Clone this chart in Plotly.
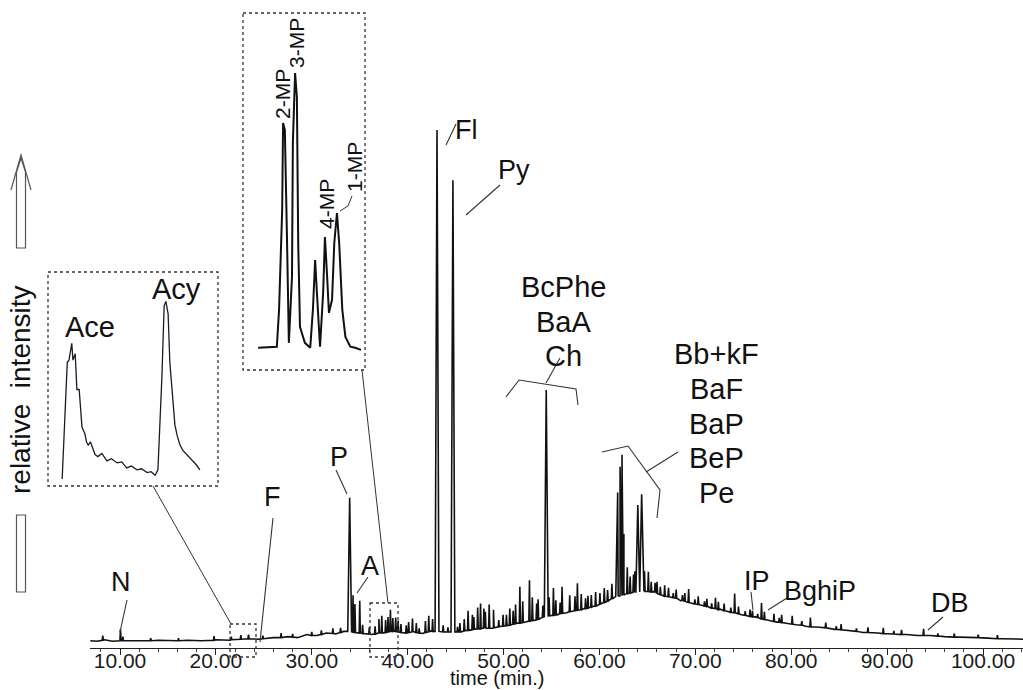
import plotly.graph_objects as go

W, H = 1023, 690
FONT = "Liberation Sans, Arial, sans-serif"
INK = "#111111"

# ---- main chromatogram: baseline readings (time in min, relative intensity) ----
base_time = [6.9, 7.6, 8.4, 9.2, 11.0, 12.5, 14.0, 15.5, 17.0, 18.5, 20.0, 21.5, 23.0, 24.5,
             26.0, 27.5, 28.5, 29.5, 30.5, 31.5, 32.5, 33.3, 35.6, 36.2, 37.0, 38.6, 39.6,
             40.6, 41.6, 42.4, 45.6, 46.6, 47.8, 48.8, 49.8, 50.8, 51.4, 52.3, 53.3, 54.0,
             55.6, 56.6, 57.3, 58.4, 59.3, 60.2, 61.0, 61.6, 63.4, 65.6, 66.5, 67.5, 68.5,
             69.8, 70.8, 72.6, 73.5, 74.8, 76.3, 77.5, 78.5, 79.5, 80.5, 81.5, 83.0, 84.5,
             86.0, 87.5, 89.0, 90.5, 92.0, 93.2, 94.5, 96.0, 97.5, 99.0, 100.5, 102.0, 103.5, 104.2]
base_val = [1.4, 1.3, 1.6, 1.3, 1.4, 1.3, 1.5, 1.4, 1.5, 1.4, 1.6, 1.5, 1.8, 1.7,
            2.0, 2.2, 2.0, 2.6, 2.4, 2.9, 2.7, 3.2, 2.8, 2.6, 3.0, 3.3, 2.9,
            3.2, 2.8, 3.3, 3.1, 3.5, 3.8, 3.7, 4.2, 4.5, 4.8, 5.0, 5.4, 5.9,
            6.4, 6.8, 7.2, 7.6, 8.0, 8.6, 9.2, 9.8, 10.7, 10.9, 10.2, 9.7, 9.1,
            8.6, 8.1, 7.5, 7.0, 6.4, 6.0, 5.4, 5.0, 4.8, 4.5, 4.2, 4.0, 3.6,
            3.3, 3.0, 2.9, 2.7, 2.6, 2.4, 2.4, 2.2, 2.1, 2.0, 1.9, 1.8, 1.7, 1.7]

# ---- peaks: retention time, local baseline, apex ----
peak_time = [8.2, 10.05, 10.3, 13.2, 16.1, 19.8, 21.6, 22.6, 23.4, 24.9, 26.8, 28.0, 30.0,
             31.0, 32.2, 33.0,
             33.95,
             34.3, 34.5, 35.0, 35.3,
             36.0, 36.6, 37.0, 37.3, 37.7, 37.95, 38.2, 38.45, 38.75, 39.0, 39.3, 39.85, 40.1,
             40.5, 40.9, 41.2, 41.85, 42.2, 42.6,
             43.06,
             43.7, 44.2,
             44.72,
             45.2, 45.45, 45.9, 46.3, 46.75, 46.9, 47.3, 47.6, 47.95, 48.1, 48.5, 48.95, 49.0,
             49.5, 49.95, 50.3, 50.65, 51.0, 51.25, 51.7, 52.0, 52.7, 53.0, 53.45, 53.6, 54.1,
             54.45,
             54.75, 55.2, 55.45, 55.9, 56.1, 56.9, 57.45, 57.7, 58.1, 58.55, 58.8, 59.15, 59.6,
             60.05, 60.5, 60.85, 61.3,
             61.9, 62.15, 62.35, 62.55, 62.9, 63.2, 63.55, 63.7, 64.0, 64.4, 64.7, 65.1, 65.4,
             65.8, 66.0, 66.35, 66.8, 67.2, 67.7, 68.0, 68.65, 68.9, 69.3, 69.95, 70.3, 70.95,
             71.2, 71.7, 72.1, 72.4, 73.0, 73.7, 74.1, 74.5, 75.2, 75.7, 75.95, 76.5, 76.9,
             77.2, 78.2, 78.75, 79.0, 80.1, 81.1, 82.0, 83.6, 84.7, 85.2, 86.8, 88.0, 89.6,
             90.7, 91.5, 93.8, 95.3, 97.0, 99.5, 101.5]
peak_base = [1.5, 1.4, 1.4, 1.4, 1.4, 1.5, 1.6, 1.7, 1.8, 1.8, 2.0, 2.1, 2.4,
             2.6, 2.8, 3.0,
             3.2,
             3.0, 3.0, 2.9, 2.8,
             2.7, 2.7, 2.9, 2.9, 3.0, 3.1, 3.2, 3.2, 3.2, 3.1, 3.0, 2.9, 3.0,
             3.1, 3.0, 2.9, 3.0, 3.1, 3.2,
             3.2,
             3.1, 3.1,
             3.1,
             3.1, 3.1, 3.3, 3.4, 3.5, 3.6, 3.7, 3.7, 3.8, 3.8, 3.8, 3.8, 3.9,
             4.1, 4.2, 4.3, 4.4, 4.6, 4.7, 4.8, 4.9, 5.2, 5.3, 5.4, 5.5, 5.9,
             6.1,
             6.2, 6.3, 6.4, 6.6, 6.7, 7.0, 7.2, 7.3, 7.4, 7.6, 7.7, 7.9, 8.1,
             8.4, 8.8, 9.0, 9.5,
             10.0, 10.1, 10.2, 10.3, 10.5, 10.6, 10.7, 10.7, 10.8, 10.9, 10.9, 10.9, 10.8,
             10.7, 10.5, 10.3, 10.0, 9.9, 9.7, 9.6, 9.2, 9.0, 8.8, 8.5, 8.4, 8.1,
             8.0, 7.7, 7.6, 7.4, 7.2, 6.9, 6.8, 6.6, 6.3, 6.1, 6.0, 5.9, 5.6,
             5.5, 5.1, 5.0, 4.9, 4.6, 4.4, 4.1, 3.9, 3.6, 3.5, 3.2, 3.0, 2.8,
             2.7, 2.6, 2.4, 2.3, 2.1, 2.0, 1.8]
peak_top = [2.4, 3.6, 2.2, 1.9, 1.9, 2.3, 2.2, 2.5, 2.6, 2.4, 2.9, 2.7, 3.1,
            3.4, 3.8, 3.9,
            29.0,
            10.2, 8.5, 9.1, 4.5,
            4.0, 4.2, 5.6, 6.2, 5.4, 6.0, 7.4, 5.8, 5.9, 5.3, 4.6, 4.4, 5.0,
            5.7, 4.8, 3.8, 5.2, 6.2, 5.6,
            100.0,
            4.4, 4.0,
            90.3,
            4.1, 4.8, 5.6, 7.2, 6.4, 6.0, 7.8, 8.6, 7.6, 7.0, 8.4, 7.4, 5.8,
            5.4, 6.4, 6.4, 7.6, 7.2, 8.4, 11.8, 9.0, 13.1, 9.8, 8.6, 9.4, 8.2,
            49.8,
            9.8, 11.6, 9.2, 8.8, 11.8, 10.2, 10.0, 12.5, 10.4, 9.6, 10.1, 10.2, 10.8,
            10.6, 11.6, 11.2, 12.4,
            30.0, 35.0, 37.3, 22.0, 15.6, 13.8, 14.2, 14.8, 27.6, 29.7, 14.8, 14.7, 12.8,
            12.6, 12.8, 11.8, 12.1, 11.6, 10.6, 11.3, 10.2, 10.6, 11.4, 9.4, 10.0, 9.0,
            9.5, 8.6, 9.7, 8.9, 8.6, 7.8, 10.5, 8.0, 7.1, 7.4, 7.2, 6.6, 8.7,
            7.0, 6.6, 5.8, 6.4, 6.2, 5.2, 5.9, 4.9, 4.2, 4.6, 3.8, 4.0, 3.9,
            3.3, 3.5, 3.7, 2.8, 2.8, 2.6, 2.5]

# ---- inset: Ace / Acy window ----
ace_time = [21.75, 21.80, 21.84, 21.87, 21.92, 21.94, 21.98, 22.01, 22.05, 22.10, 22.15,
            22.18, 22.21, 22.25, 22.29, 22.33, 22.38, 22.45, 22.54, 22.62, 22.72, 22.80,
            22.89, 22.97, 23.07, 23.15, 23.25, 23.32, 23.39, 23.44, 23.51, 23.55, 23.58,
            23.62, 23.65, 23.70, 23.74, 23.78, 23.83, 23.88, 23.95, 24.00, 24.06, 24.12, 24.18]
ace_val = [1.3, 32, 57, 58, 66, 58, 61, 44, 44, 26, 23,
           19, 17.5, 19, 16, 13, 12, 13.5, 10, 11, 9, 9.5,
           6.6, 7.5, 5.7, 6.2, 4.4, 4.8, 3.1, 5.7, 50, 84, 86,
           80, 57, 38, 27, 22, 17.5, 15, 13, 11.5, 10, 8, 5.7]

# ---- inset: methylphenanthrene window ----
mp_time = [36.44, 36.86, 36.91, 36.98, 37.00, 37.04, 37.09, 37.13, 37.20, 37.22, 37.27,
           37.31, 37.34, 37.38, 37.49, 37.61, 37.67, 37.72, 37.76, 37.83, 37.90, 37.94,
           37.99, 38.03, 38.10, 38.15, 38.21, 38.26, 38.33, 38.40, 38.51, 38.62, 38.75]
mp_val = [5.1, 5.4, 15.9, 44.2, 68.8, 66.9, 34.8, 6.5, 25.2, 63.2, 83.0,
          76.2, 34.8, 11.0, 6.5, 5.1, 15.9, 30.0, 20.7, 5.4, 20.7, 36.5,
          25.2, 15.0, 18.7, 34.8, 43.3, 34.8, 15.9, 8.2, 5.4, 5.1, 4.5]

x_ticks = [10, 20, 30, 40, 50, 60, 70, 80, 90, 100]

# assemble the polyline: baseline readings plus a narrow spike for every peak
pts = list(zip(base_time, base_val))
for t, b, h in zip(peak_time, peak_base, peak_top):
    w = 0.2 if h - b > 15 else 0.06
    pts += [(t - w, b), (t, h), (t + w, b)]
pts.sort()
main_t = [p[0] for p in pts]
main_v = [p[1] for p in pts]


def px(x):
    return x / W


def py(y):
    return 1 - y / H


fig = go.Figure()
fig.add_trace(go.Scatter(x=main_t, y=main_v, mode="lines",
                         line=dict(color=INK, width=1.6), hoverinfo="skip"))
fig.add_trace(go.Scatter(x=ace_time, y=ace_val, mode="lines", xaxis="x2", yaxis="y2",
                         line=dict(color="#1a1a2a", width=1.3), hoverinfo="skip"))
fig.add_trace(go.Scatter(x=mp_time, y=mp_val, mode="lines", xaxis="x3", yaxis="y3",
                         line=dict(color=INK, width=2.0), hoverinfo="skip"))

fig.update_layout(
    width=W, height=H, margin=dict(l=0, r=0, t=0, b=0),
    paper_bgcolor="white", plot_bgcolor="white", showlegend=False,
    xaxis=dict(domain=[px(90), 1], range=[6.87, 104.17], tickvals=x_ticks,
               tickformat=".2f", showline=True, linecolor="#222", linewidth=1.3,
               ticks="outside", ticklen=6, tickwidth=1.2, tickcolor="#222",
               ticklabelstandoff=-12,
               minor=dict(dtick=2, ticks="outside", ticklen=3, tickcolor="#444"),
               showgrid=False, zeroline=False,
               tickfont=dict(family=FONT, size=21, color="#1a1a1a")),
    yaxis=dict(domain=[py(648), 1], range=[0, 648 / 5.18], visible=False),
    xaxis2=dict(domain=[px(48), px(218)], range=[21.5, 24.5], anchor="y2", visible=False),
    yaxis2=dict(domain=[py(486), py(272)], range=[-2, 100], anchor="x2", visible=False),
    xaxis3=dict(domain=[px(243), px(365)], range=[36.1, 38.84], anchor="y3", visible=False),
    yaxis3=dict(domain=[py(370), py(13)], range=[-1.2, 100], anchor="x3", visible=False),
)


def line(x0, y0, x1, y1, color="#333", width=1.1, dash=None):
    fig.add_shape(type="line", xref="paper", yref="paper",
                  x0=px(x0), y0=py(y0), x1=px(x1), y1=py(y1),
                  line=dict(color=color, width=width, dash=dash))


def polyline(points, color="#333", width=1.1, close=False):
    d = "M " + " L ".join(f"{px(a):.5f},{py(b):.5f}" for a, b in points)
    if close:
        d += " Z"
    fig.add_shape(type="path", xref="paper", yref="paper", path=d,
                  line=dict(color=color, width=width))


def box(x0, y0, x1, y1):
    fig.add_shape(type="rect", xref="paper", yref="paper",
                  x0=px(x0), y0=py(y0), x1=px(x1), y1=py(y1),
                  line=dict(color="#333", width=1.3, dash="dot"))


def label(text, x, y, size=27, angle=0):
    fig.add_annotation(text=text, x=px(x), y=py(y), xref="paper", yref="paper",
                       showarrow=False, textangle=angle, align="center",
                       xanchor="center", yanchor="middle",
                       font=dict(family=FONT, size=size, color=INK))


# inset frames, zoom windows and the connectors between them
box(48, 272, 218, 486)
box(243, 13, 365, 370)
box(230, 624, 256, 657)
box(370, 603, 398, 657)
line(153, 486, 231, 624, width=1.0)
line(362, 370, 388, 603, width=1.0)

# peak labels and their leader lines
label("N", 121, 582)
line(127, 600, 120, 632)
label("F", 272, 497)
line(273, 518, 260, 642)
label("P", 339, 457)
line(336, 470, 347, 494)
label("A", 370, 566)
line(368, 577, 357, 593)
label("Fl", 466, 130)
line(446, 145, 456, 124)
label("Py", 514, 170)
line(466, 215, 500, 185)
for name, yy in zip(["BcPhe", "BaA", "Ch"], [287, 322, 356]):
    label(name, 563, yy, size=29)
polyline([(506, 397), (519, 380), (576, 389), (578, 405)])
line(546, 383, 560, 358)
for name, yy in zip(["Bb+kF", "BaF", "BaP", "BeP", "Pe"], [354, 389, 424, 458, 493]):
    label(name, 716, yy, size=29)
polyline([(602, 452), (628, 446), (660, 490), (657, 518)])
line(646, 472, 678, 452)
label("IP", 757, 581)
line(751, 592, 753, 610)
label("BghiP", 820, 591)
line(787, 598, 768, 610)
label("DB", 950, 603)
line(943, 617, 928, 630)

# inset labels
label("Ace", 90, 327, size=29)
label("Acy", 176, 289, size=29)
label("2-MP", 282, 94, size=21, angle=-90)
label("3-MP", 296, 43, size=21, angle=-90)
label("4-MP", 326, 204, size=21, angle=-90)
label("1-MP", 354, 167, size=21, angle=-90)
polyline([(340, 211), (348, 206), (352, 196)], width=1.0)

# axis titles
label("time (min.)", 497, 678, size=20)
label("relative\u00a0\u00a0intensity", 21, 390, size=28, angle=-90)

# open arrow above and bar below the vertical title
polyline([(11, 190), (21, 155), (31, 190)], color="#555", width=1.2)
polyline([(16.5, 248), (16.5, 172), (21, 158), (25.5, 172), (25.5, 248)],
         color="#555", width=1.2, close=True)
polyline([(16.5, 515), (25.5, 515), (25.5, 592), (16.5, 592)], color="#555",
         width=1.2, close=True)

fig.write_html("out.html")
